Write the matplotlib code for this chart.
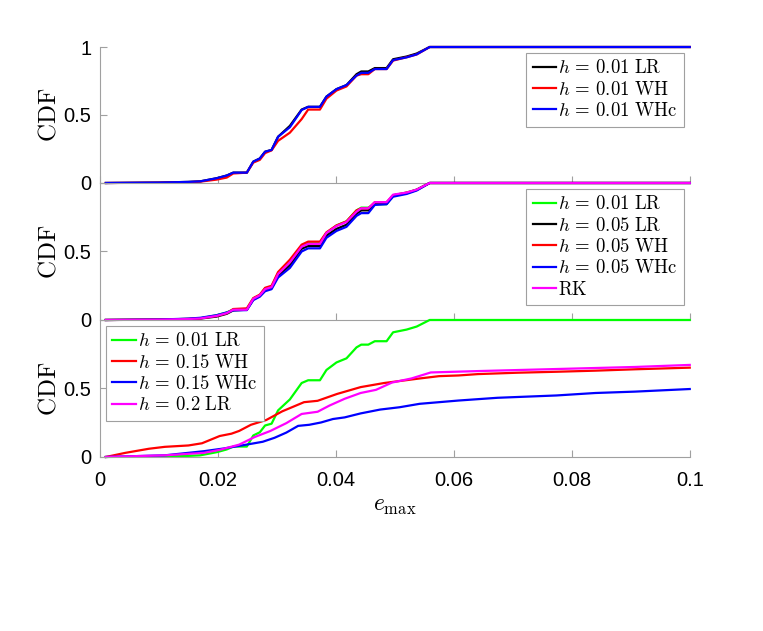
import matplotlib
matplotlib.use("Agg")
import matplotlib.pyplot as plt

plt.rcParams["mathtext.fontset"] = "cm"
plt.rcParams["font.family"] = ["Liberation Sans", "DejaVu Sans"]

# shared x grid for the S-shaped curves (top and middle panels)
x_s = [0.001, 0.010, 0.015, 0.017, 0.0198, 0.0215, 0.0226, 0.0249, 0.026, 0.0271,
       0.028, 0.0291, 0.0302, 0.0322, 0.0342, 0.0353, 0.0373, 0.0384, 0.0401, 0.0418,
       0.0435, 0.0443, 0.0455, 0.0466, 0.0486, 0.0497, 0.052, 0.0537, 0.0559, 0.1]

lr_001 = [0, 0.003, 0.008, 0.012, 0.035, 0.055, 0.076, 0.076, 0.157, 0.18,
          0.23, 0.243, 0.34, 0.42, 0.54, 0.56, 0.56, 0.635, 0.69, 0.72,
          0.80, 0.82, 0.82, 0.845, 0.845, 0.91, 0.93, 0.952, 1.0, 1.0]
wh_001 = [0, 0.002, 0.006, 0.01, 0.025, 0.04, 0.07, 0.076, 0.15, 0.17,
          0.22, 0.24, 0.31, 0.37, 0.47, 0.54, 0.54, 0.62, 0.68, 0.71,
          0.79, 0.80, 0.80, 0.838, 0.838, 0.90, 0.925, 0.945, 1.0, 1.0]
whc_001 = [0, 0.003, 0.008, 0.012, 0.035, 0.055, 0.076, 0.076, 0.157, 0.18,
           0.23, 0.243, 0.34, 0.41, 0.537, 0.56, 0.56, 0.635, 0.69, 0.72,
           0.79, 0.81, 0.81, 0.838, 0.838, 0.904, 0.924, 0.946, 1.0, 1.0]

lr_005 = [0, 0.002, 0.006, 0.01, 0.025, 0.045, 0.07, 0.075, 0.15, 0.175,
          0.22, 0.235, 0.32, 0.40, 0.52, 0.54, 0.54, 0.615, 0.665, 0.695,
          0.775, 0.80, 0.80, 0.85, 0.85, 0.91, 0.925, 0.95, 1.0, 1.0]
wh_005 = [0, 0.003, 0.008, 0.012, 0.03, 0.05, 0.08, 0.085, 0.16, 0.185,
          0.235, 0.25, 0.35, 0.44, 0.55, 0.572, 0.572, 0.64, 0.69, 0.72,
          0.80, 0.815, 0.815, 0.86, 0.86, 0.91, 0.93, 0.95, 1.0, 1.0]
whc_005 = [0, 0.003, 0.01, 0.016, 0.035, 0.055, 0.07, 0.072, 0.145, 0.17,
           0.21, 0.225, 0.31, 0.38, 0.50, 0.523, 0.523, 0.60, 0.65, 0.68,
           0.76, 0.78, 0.78, 0.84, 0.845, 0.90, 0.92, 0.945, 1.0, 1.0]
rk = [0, 0.002, 0.007, 0.011, 0.03, 0.05, 0.075, 0.075, 0.155, 0.18,
      0.225, 0.24, 0.335, 0.42, 0.535, 0.555, 0.555, 0.635, 0.685, 0.715,
      0.79, 0.815, 0.815, 0.86, 0.86, 0.915, 0.93, 0.952, 1.0, 1.0]

# bottom panel, coarse steps
x_wh015 = [0.001, 0.0043, 0.0083, 0.011, 0.015, 0.0173, 0.0203, 0.0223, 0.0236, 0.0256,
           0.0282, 0.0309, 0.0346, 0.0369, 0.0402, 0.0442, 0.0482, 0.0542, 0.0575, 0.0608,
           0.0641, 0.0708, 0.0774, 0.084, 0.0907, 0.1]
wh_015 = [0, 0.03, 0.06, 0.074, 0.084, 0.10, 0.153, 0.17, 0.19, 0.235,
          0.27, 0.333, 0.40, 0.41, 0.46, 0.51, 0.54, 0.573, 0.59, 0.595,
          0.605, 0.615, 0.622, 0.63, 0.64, 0.652]

x_whc015 = [0.001, 0.011, 0.0176, 0.021, 0.0243, 0.0276, 0.0296, 0.0316, 0.0336, 0.0355,
            0.0375, 0.0395, 0.0415, 0.0442, 0.0475, 0.0508, 0.0542, 0.0608, 0.0674, 0.0774,
            0.084, 0.0907, 0.1]
whc_015 = [0, 0.012, 0.042, 0.062, 0.086, 0.111, 0.14, 0.178, 0.227, 0.235,
           0.252, 0.277, 0.289, 0.318, 0.346, 0.363, 0.388, 0.412, 0.432, 0.449,
           0.467, 0.477, 0.496]

x_lr02 = [0.001, 0.011, 0.0176, 0.0203, 0.0236, 0.0262, 0.0289, 0.0316, 0.0342, 0.0369,
          0.0389, 0.0415, 0.0442, 0.0468, 0.0495, 0.0528, 0.0561, 0.0641, 0.0774, 0.0907, 0.1]
lr_02 = [0, 0.012, 0.03, 0.052, 0.09, 0.145, 0.19, 0.247, 0.314, 0.33,
         0.375, 0.425, 0.467, 0.49, 0.543, 0.573, 0.617, 0.627, 0.642, 0.657, 0.672]

GREEN, RED, BLUE, MAG = "#00ff00", "#ff0000", "#0000ff", "#ff00ff"
SPINE = "#a0a0a0"
LW = 1.6

fig = plt.figure(figsize=(7.63, 6.31), dpi=100)
left, width = 0.131, 0.773
ax1 = fig.add_axes([left, 0.710, width, 0.2155])
ax2 = fig.add_axes([left, 0.4929, width, 0.2171])
ax3 = fig.add_axes([left, 0.2758, width, 0.2171])


def lab(h, m):
    return r"$h\,=\,%s\ \mathrm{%s}$" % (h, m)


# top panel
ax1.plot(x_s, lr_001, color="k", lw=LW, label=lab("0.01", "LR"), clip_on=False)
ax1.plot(x_s, wh_001, color=RED, lw=LW, label=lab("0.01", "WH"), clip_on=False)
ax1.plot(x_s, whc_001, color=BLUE, lw=LW, label=lab("0.01", "WHc"), clip_on=False)

# middle panel
ax2.plot(x_s, lr_001, color=GREEN, lw=LW, label=lab("0.01", "LR"), clip_on=False)
ax2.plot(x_s, lr_005, color="k", lw=LW, label=lab("0.05", "LR"), clip_on=False)
ax2.plot(x_s, wh_005, color=RED, lw=LW, label=lab("0.05", "WH"), clip_on=False)
ax2.plot(x_s, whc_005, color=BLUE, lw=LW, label=lab("0.05", "WHc"), clip_on=False)
ax2.plot(x_s, rk, color=MAG, lw=LW, label=r"$\mathrm{RK}$", clip_on=False)

# bottom panel
ax3.plot(x_s, lr_001, color=GREEN, lw=LW, label=lab("0.01", "LR"), clip_on=False)
ax3.plot(x_wh015, wh_015, color=RED, lw=LW, label=lab("0.15", "WH"), clip_on=False)
ax3.plot(x_whc015, whc_015, color=BLUE, lw=LW, label=lab("0.15", "WHc"), clip_on=False)
ax3.plot(x_lr02, lr_02, color=MAG, lw=LW, label=lab("0.2", "LR"), clip_on=False)

for ax in (ax1, ax2, ax3):
    ax.set_xlim(0, 0.1)
    ax.set_ylim(0, 1)
    ax.set_facecolor("none")
    for s in ("top", "right"):
        ax.spines[s].set_visible(False)
    for s in ("left", "bottom"):
        ax.spines[s].set_color(SPINE)
        ax.spines[s].set_linewidth(0.8)
    ax.set_xticks([0, 0.02, 0.04, 0.06, 0.08, 0.1])
    ax.tick_params(direction="in", length=5, color=SPINE, labelsize=14.5)
    ax.tick_params(axis="x", pad=10)
    ax.tick_params(axis="y", pad=6)
    ax.set_ylabel(r"$\mathrm{CDF}$", fontsize=18, labelpad=2)

ax1.set_yticks([0, 0.5, 1])
ax1.set_yticklabels(["0", "0.5", "1"])
ax2.set_yticks([0, 0.5, 1])
ax2.set_yticklabels(["0", "0.5", ""])
ax3.set_yticks([0, 0.5, 1])
ax3.set_yticklabels(["0", "0.5", ""])
ax1.tick_params(axis="x", labelbottom=False)
ax2.tick_params(axis="x", labelbottom=False)
ax3.set_xticklabels(["0", "0.02", "0.04", "0.06", "0.08", "0.1"])
ax3.set_xlabel(r"$e_{\max}$", fontsize=17, labelpad=4)

leg_kw = dict(fontsize=13.5, handlelength=1.25, handletextpad=0.12, borderpad=0.35,
              labelspacing=0.18, fancybox=False, framealpha=1, borderaxespad=0.3)
for ax, loc in ((ax1, "upper right"), (ax2, "upper right"), (ax3, "upper left")):
    lg = ax.legend(loc=loc, **leg_kw)
    lg.get_frame().set_edgecolor(SPINE)
    lg.get_frame().set_linewidth(0.8)

fig.savefig("out.png", dpi=100)
